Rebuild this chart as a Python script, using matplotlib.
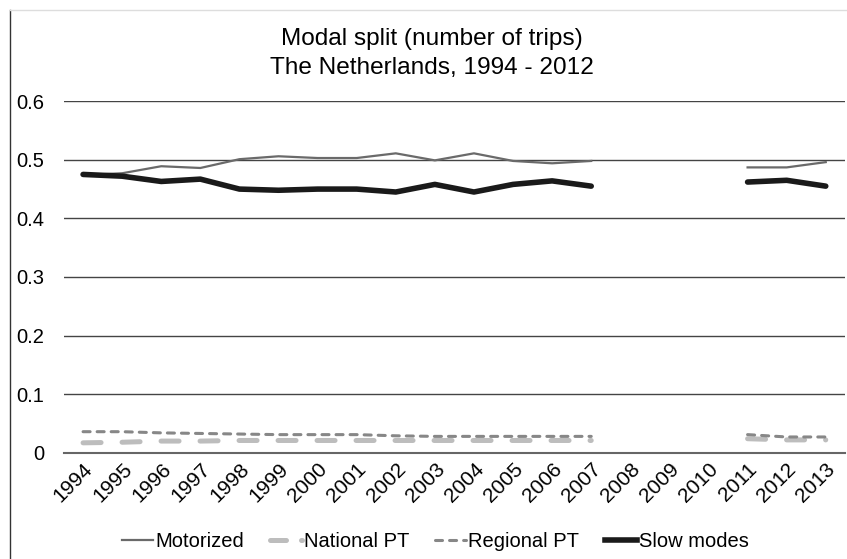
import numpy as np
import matplotlib
matplotlib.use('Agg')
import matplotlib.pyplot as plt
from matplotlib.lines import Line2D

plt.rcParams['font.family'] = ['Liberation Sans', 'DejaVu Sans']

nan = np.nan
years = [str(y) for y in range(1994, 2014)]
motorized = [0.474, 0.477, 0.489, 0.486, 0.501, 0.506, 0.503, 0.503, 0.511, 0.499,
             0.511, 0.498, 0.494, 0.498, nan, nan, nan, 0.487, 0.487, 0.496]
national_pt = [0.017, 0.018, 0.020, 0.020, 0.021, 0.021, 0.021, 0.021, 0.021, 0.021,
               0.021, 0.021, 0.021, 0.021, nan, nan, nan, 0.024, 0.022, 0.022]
regional_pt = [0.036, 0.036, 0.034, 0.033, 0.032, 0.031, 0.031, 0.031, 0.029, 0.028,
               0.028, 0.028, 0.028, 0.028, nan, nan, nan, 0.031, 0.027, 0.027]
slow_modes = [0.475, 0.472, 0.463, 0.467, 0.450, 0.448, 0.450, 0.450, 0.445, 0.458,
              0.445, 0.458, 0.464, 0.455, nan, nan, nan, 0.462, 0.465, 0.455]

c_mot = '#6a6a6a'
c_nat = '#bdbdbd'
c_reg = '#878787'
c_slow = '#1a1a1a'

fig = plt.figure(figsize=(8.47, 5.59), dpi=100)
ax = fig.add_axes([0.075, 0.19, 0.923, 0.629])

x = np.arange(len(years))
ax.plot(x, motorized, color=c_mot, lw=1.6)
ax.plot(x, national_pt, color=c_nat, lw=3.6, dashes=(3.6, 4.2), dash_capstyle='round')
ax.plot(x, regional_pt, color=c_reg, lw=2.2, dashes=(2.3, 2.3), dash_capstyle='round')
ax.plot(x, slow_modes, color=c_slow, lw=4, solid_capstyle='round')

ax.set_xlim(-0.5, len(years) - 0.5)
ax.set_ylim(0, 0.6)
ax.set_yticks(np.arange(0, 0.61, 0.1))
ax.set_yticklabels(['0', '0.1', '0.2', '0.3', '0.4', '0.5', '0.6'], fontsize=14.5)
ax.set_xticks(x)
ax.set_xticklabels(years, rotation=45, ha='right', rotation_mode='anchor', fontsize=15)
ax.tick_params(axis='y', length=0, pad=14)
ax.tick_params(axis='x', length=0, pad=5)
ax.grid(axis='y', color='#444444', lw=1)
ax.set_axisbelow(True)
for s in ['left', 'right', 'top']:
    ax.spines[s].set_visible(False)
ax.spines['bottom'].set_color('#666666')
ax.spines['bottom'].set_linewidth(1.5)

fig.text(0.51, 0.9195, 'Modal split (number of trips)', ha='center', va='baseline', fontsize=17.6)
fig.text(0.51, 0.8676, 'The Netherlands, 1994 - 2012', ha='center', va='baseline', fontsize=17.6)

handles = [Line2D([], [], color=c_mot, lw=1.6),
           Line2D([], [], color=c_nat, lw=3.6, dashes=(3.2, 3), dash_capstyle='round'),
           Line2D([], [], color=c_reg, lw=2.2, dashes=(2.3, 2.3), dash_capstyle='round'),
           Line2D([], [], color=c_slow, lw=4)]
fig.legend(handles, ['Motorized', 'National PT', 'Regional PT', 'Slow modes'],
           loc='center', bbox_to_anchor=(0.514, 0.032), ncol=4, frameon=False,
           fontsize=14.5, handlelength=1.55, handletextpad=0.1, columnspacing=1.3)

# chart border remnants
fig.add_artist(Line2D([0.012, 0.012], [0, 0.982], color='#333333', lw=1))
fig.add_artist(Line2D([0.012, 1], [0.982, 0.982], color='#dddddd', lw=1))

fig.savefig('out.png', dpi=100)
